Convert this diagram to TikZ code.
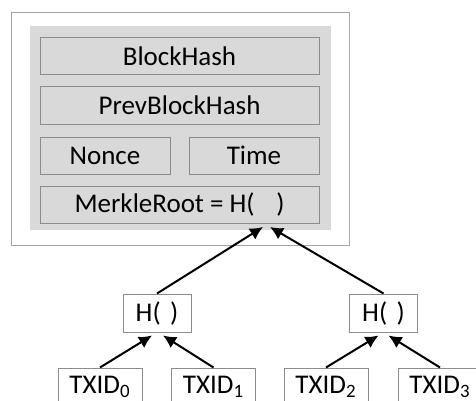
\documentclass[tikz,border=0pt]{standalone}
\usepackage{fontspec}
\setmainfont{Carlito}
\usetikzlibrary{arrows.meta}

\definecolor{hdrgray}{HTML}{D9D9D9}
\definecolor{linegray}{HTML}{8C8C8C}
\definecolor{framegray}{HTML}{A6A6A6}

\tikzset{
  field/.style={draw=linegray, fill=hdrgray, line width=0.5pt, inner sep=0pt,
                minimum height=18.5pt, font=\fontsize{13.5}{15}\selectfont},
  hashbox/.style={draw=linegray, fill=white, line width=0.5pt, inner sep=0pt,
                  minimum width=34pt, minimum height=19pt, font=\fontsize{13.5}{15}\selectfont},
  txbox/.style={hashbox, minimum width=42pt},
  hasharrow/.style={-{Latex[length=6.5pt,width=6.5pt]}, line width=1pt}
}

\begin{document}
\begin{tikzpicture}[x=0.5pt,y=-0.5pt]

\useasboundingbox (0,0) rectangle (476,401);
\clip (0,0) rectangle (476,401);

%% block header
\node[draw=framegray, fill=white, line width=0.5pt, minimum width=169pt, minimum height=116pt] (block) at (180,129) {};
\node[fill=hdrgray, inner sep=0pt, minimum width=150.5pt, minimum height=102pt] (header) at (180.5,128) {};

%% header fields
\node[field, minimum width=139.5pt] (bh)    at (179.5,56.5)  {BlockHash};
\node[field, minimum width=139.5pt] (pbh)   at (179.5,105.5) {PrevBlockHash};
\node[field, minimum width=65pt]    (nonce) at (105,155.5)   {Nonce};
\node[field, minimum width=65pt]    (time)  at (254,155.5)   {Time};
\node[field, minimum width=139.5pt] (mr)    at (179.5,204.5) {MerkleRoot = H(\hspace{0.8em})};

%% arrow targets
\coordinate (mrL) at (263,227);
\coordinate (mrR) at (270,227);

%% inner hashes
\node[hashbox] (hl) at (157,313)   {H(\hspace{0.35em})};
\node[hashbox] (hr) at (383.5,313) {H(\hspace{0.35em})};

%% transactions
\node[txbox] (tx0) at (100,387)   {TXID\textsubscript{0}};
\node[txbox] (tx1) at (213.5,387) {TXID\textsubscript{1}};
\node[txbox] (tx2) at (326,387)   {TXID\textsubscript{2}};
\node[txbox] (tx3) at (440,387)   {TXID\textsubscript{3}};

%%% edges
\draw[hasharrow] (hl.north) -- (mrL);   %% hl -> root
\draw[hasharrow] (hr.north) -- (mrR);   %% hr -> root
\draw[hasharrow] (tx0.north) -- ([xshift=-2.5pt,yshift=-1.5pt]hl.south);   %% tx0 -> hl
\draw[hasharrow] (tx1.north) -- ([xshift=3pt,yshift=-1.5pt]hl.south);      %% tx1 -> hl
\draw[hasharrow] (tx2.north) -- ([xshift=-2.5pt,yshift=-1.5pt]hr.south);   %% tx2 -> hr
\draw[hasharrow] (tx3.north) -- ([xshift=2.5pt,yshift=-1.5pt]hr.south);    %% tx3 -> hr
\end{tikzpicture}
\end{document}
